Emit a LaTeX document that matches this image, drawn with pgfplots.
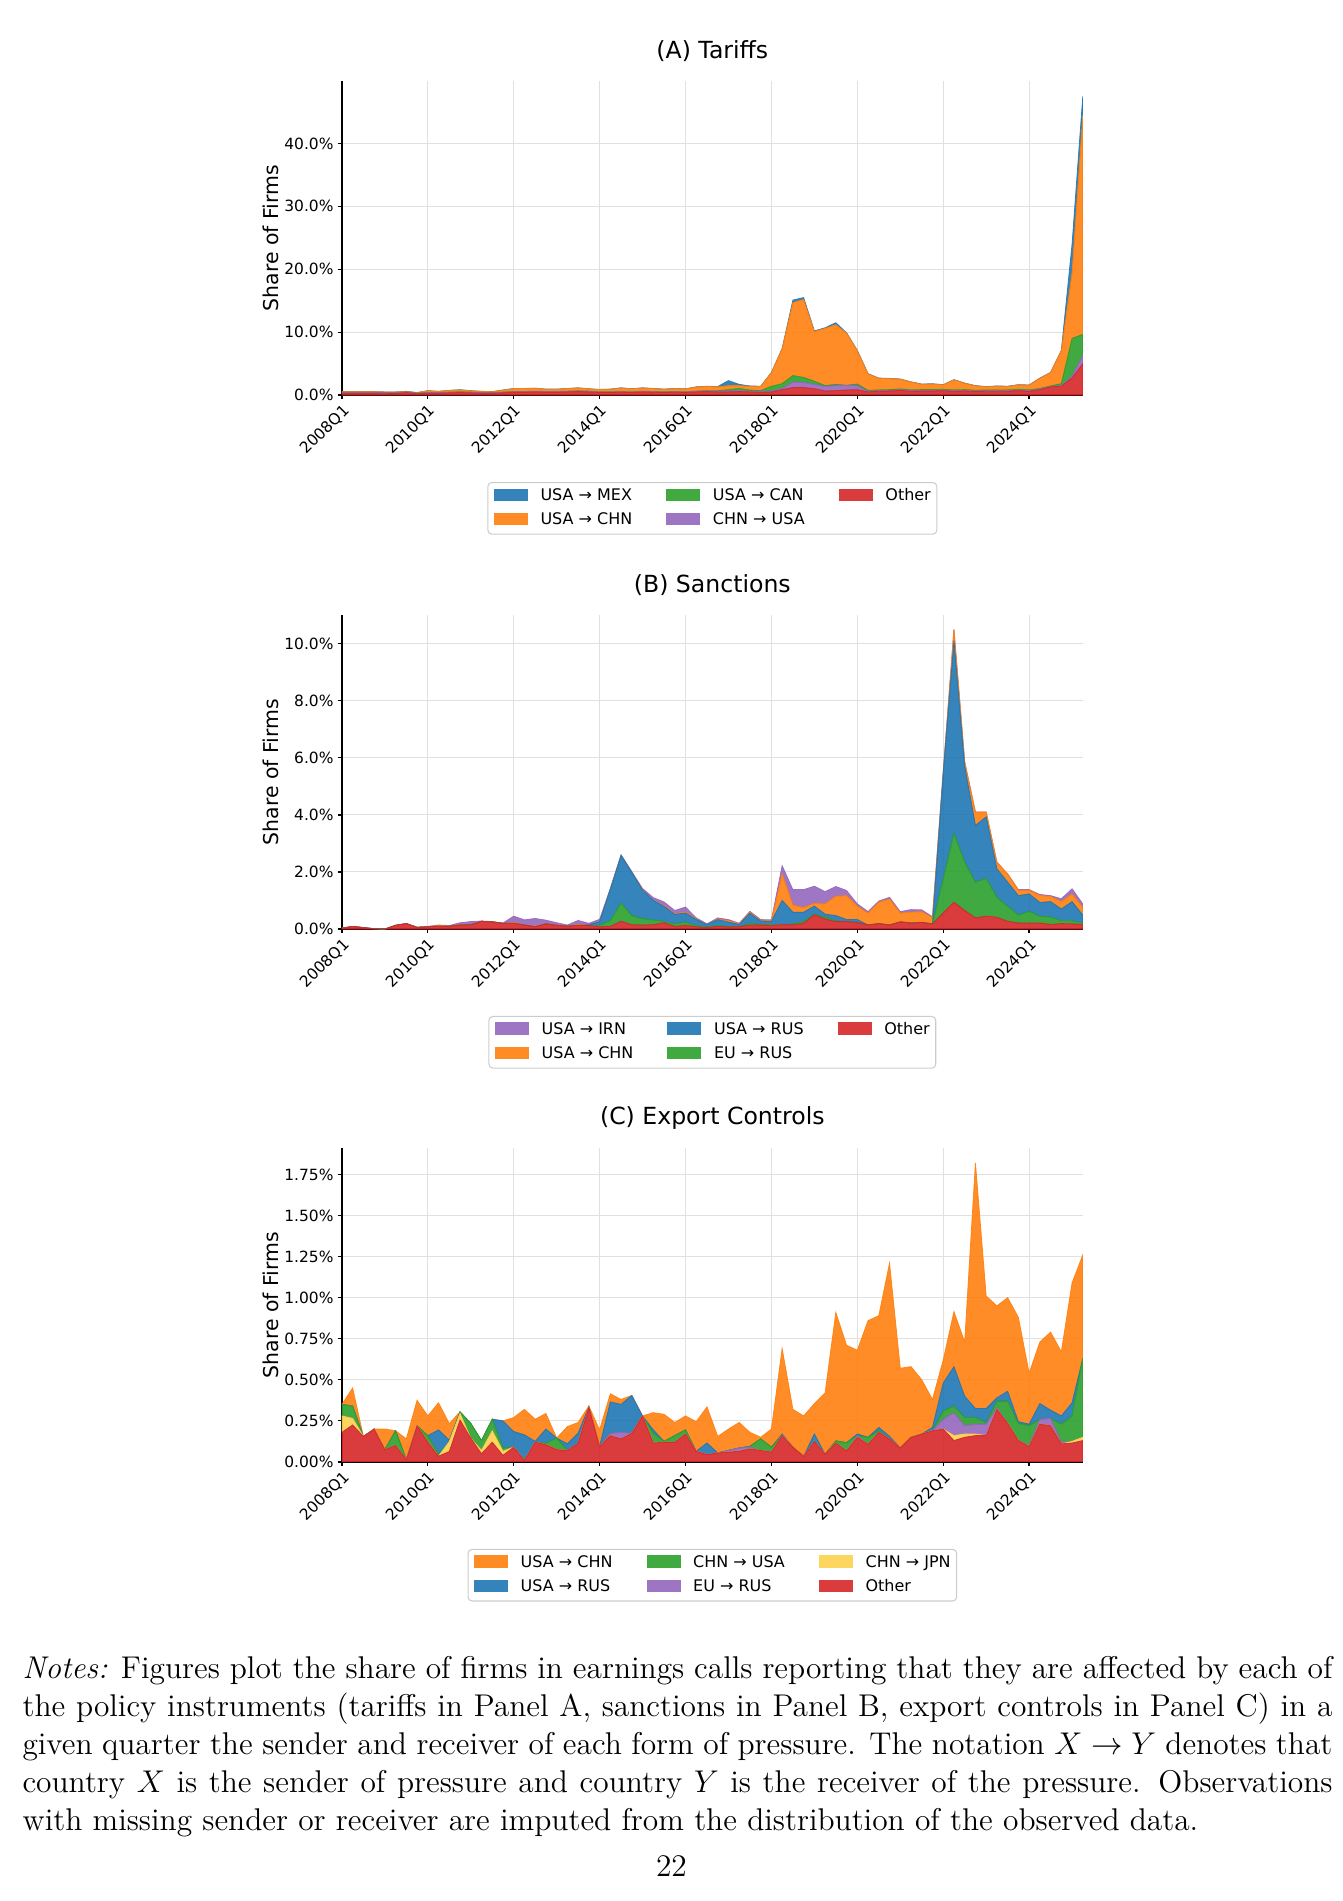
\documentclass[border=0pt]{standalone}
\usepackage{fontspec}
\usepackage{pgfplots}
\usepackage{pgfplotstable}
\pgfplotsset{compat=1.18}
\newfontfamily\dv{DejaVu Sans}

\definecolor{tblue}{HTML}{1F77B4}
\definecolor{torange}{HTML}{FF7F0E}
\definecolor{tgreen}{HTML}{2CA02C}
\definecolor{tred}{HTML}{D62728}
\definecolor{tpurple}{HTML}{9467BD}
\definecolor{tyellow}{HTML}{FDD24E}

% Panel A: tariffs, stacked from the bottom
\pgfplotstableread{
x oth cu can chn mex
0 0.30 0.08 0.04 0.11 0.02
1 0.30 0.08 0.04 0.11 0.02
2 0.30 0.08 0.04 0.11 0.02
3 0.30 0.08 0.04 0.11 0.02
4 0.28 0.08 0.04 0.08 0.02
5 0.25 0.08 0.04 0.11 0.02
6 0.40 0.08 0.04 0.06 0.02
7 0.20 0.08 0.04 0.06 0.02
8 0.30 0.08 0.04 0.26 0.02
9 0.30 0.08 0.04 0.16 0.02
10 0.35 0.08 0.04 0.26 0.02
11 0.40 0.08 0.04 0.31 0.02
12 0.35 0.08 0.04 0.21 0.02
13 0.30 0.08 0.04 0.16 0.02
14 0.30 0.08 0.04 0.11 0.02
15 0.35 0.08 0.04 0.31 0.02
16 0.45 0.08 0.04 0.46 0.02
17 0.45 0.08 0.04 0.46 0.02
18 0.50 0.08 0.04 0.46 0.02
19 0.45 0.08 0.04 0.36 0.02
20 0.45 0.08 0.04 0.36 0.02
21 0.50 0.08 0.04 0.41 0.02
22 0.55 0.08 0.04 0.46 0.02
23 0.50 0.08 0.04 0.36 0.02
24 0.40 0.08 0.04 0.36 0.02
25 0.40 0.08 0.04 0.41 0.02
26 0.45 0.08 0.04 0.56 0.02
27 0.40 0.08 0.04 0.46 0.02
28 0.50 0.08 0.04 0.51 0.02
29 0.45 0.08 0.04 0.46 0.02
30 0.40 0.08 0.04 0.41 0.02
31 0.45 0.08 0.04 0.46 0.02
32 0.40 0.08 0.04 0.46 0.02
33 0.50 0.08 0.04 0.66 0.02
34 0.55 0.10 0.05 0.67 0.03
35 0.50 0.10 0.10 0.60 0.05
36 0.50 0.15 0.20 0.65 0.80
37 0.55 0.15 0.35 0.45 0.20
38 0.50 0.10 0.20 0.60 0.05
39 0.45 0.10 0.15 0.67 0.03
40 0.50 0.15 0.75 2.15 0.05
41 0.85 0.20 0.75 5.55 0.05
42 1.20 0.90 1.00 11.60 0.40
43 1.20 0.80 0.80 12.40 0.30
44 1.00 0.70 0.50 7.90 0.10
45 0.65 0.75 0.10 9.10 0.10
46 0.70 0.80 0.20 9.50 0.30
47 0.80 0.75 0.00 8.30 0.05
48 0.85 0.65 0.25 5.30 0.05
49 0.50 0.10 0.15 2.62 0.03
50 0.60 0.10 0.12 1.85 0.03
51 0.65 0.10 0.12 1.75 0.03
52 0.75 0.10 0.12 1.55 0.03
53 0.60 0.10 0.12 1.25 0.03
54 0.65 0.10 0.12 0.85 0.03
55 0.65 0.10 0.12 0.90 0.03
56 0.70 0.10 0.12 0.70 0.03
57 0.60 0.10 0.12 1.60 0.03
58 0.65 0.10 0.12 1.00 0.03
59 0.55 0.10 0.12 0.70 0.03
60 0.60 0.10 0.12 0.50 0.03
61 0.60 0.10 0.12 0.60 0.03
62 0.60 0.10 0.12 0.55 0.03
63 0.70 0.10 0.12 0.70 0.03
64 0.60 0.10 0.12 0.75 0.03
65 0.85 0.10 0.10 1.62 0.03
66 1.30 0.05 0.10 2.12 0.03
67 1.40 0.10 0.30 5.27 0.03
68 2.70 0.30 6.00 10.50 4.50
69 5.00 1.30 3.35 34.85 3.00
}\dataA

% Panel B: sanctions
\pgfplotstableread{
x oth eu rus chn irn
0 0.03 0 0 0 0
1 0.09 0 0 0 0
2 0.05 0 0 0 0
3 0.01 0 0 0 0
4 0.00 0 0 0 0
5 0.13 0 0 0 0
6 0.19 0 0 0 0
7 0.06 0 0 0 0
8 0.08 0 0 0 0.01
9 0.10 0 0 0.03 0.01
10 0.10 0 0 0 0.02
11 0.14 0 0 0.02 0.06
12 0.15 0 0 0 0.11
13 0.27 0 0 0 0.01
14 0.25 0 0 0 0.01
15 0.20 0 0 0 0.01
16 0.20 0 0 0.03 0.22
17 0.14 0 0 0 0.18
18 0.08 0 0 0.02 0.27
19 0.18 0 0 0 0.13
20 0.13 0 0 0 0.09
21 0.10 0 0 0 0.04
22 0.13 0 0 0.03 0.14
23 0.12 0 0.03 0 0.05
24 0.08 0.05 0.12 0 0.09
25 0.09 0.21 1.10 0 0.02
26 0.27 0.64 1.67 0 0.02
27 0.15 0.32 1.52 0 0.02
28 0.14 0.22 1.00 0.02 0.04
29 0.15 0.17 0.68 0 0.10
30 0.22 0.04 0.53 0.03 0.13
31 0.09 0.09 0.33 0.02 0.12
32 0.13 0.11 0.32 0.04 0.17
33 0.08 0.04 0.21 0.02 0.04
34 0.05 0.02 0.09 0 0.02
35 0.09 0.03 0.21 0.03 0.03
36 0.07 0.02 0.15 0.05 0.04
37 0.08 0 0.08 0.02 0.02
38 0.14 0.06 0.35 0.04 0.03
39 0.14 0.02 0.12 0.03 0.02
40 0.13 0.02 0.12 0.03 0.02
41 0.15 0 0.85 0.93 0.29
42 0.15 0.03 0.41 0.25 0.54
43 0.20 0.06 0.33 0.16 0.63
44 0.50 0.02 0.28 0.10 0.60
45 0.35 0.06 0.11 0.36 0.43
46 0.26 0.03 0.18 0.68 0.34
47 0.26 0 0.07 0.84 0.18
48 0.23 0 0.10 0.47 0.08
49 0.14 0 0 0.42 0.05
50 0.19 0 0 0.75 0.04
51 0.14 0 0 0.91 0.06
52 0.25 0 0 0.31 0.05
53 0.21 0 0 0.38 0.09
54 0.23 0 0 0.38 0.06
55 0.18 0 0 0.22 0.03
56 0.56 1.20 3.70 0.04 0
57 0.94 2.41 6.75 0.40 0
58 0.65 1.70 3.35 0.16 0
59 0.39 1.25 1.99 0.47 0
60 0.45 1.33 2.15 0.17 0
61 0.41 0.70 1.00 0.23 0
62 0.27 0.53 0.84 0.29 0
63 0.21 0.28 0.68 0.19 0.02
64 0.21 0.41 0.61 0.13 0.02
65 0.21 0.24 0.48 0.25 0.03
66 0.16 0.26 0.54 0.18 0.03
67 0.19 0.10 0.41 0.26 0.10
68 0.18 0.11 0.67 0.27 0.18
69 0.16 0.05 0.28 0.27 0.12
}\dataB

% Panel C: export controls
\pgfplotstableread{
x oth jpn eu cu rus chn
0 0.18 0.10 0 0.07 0 0.0
1 0.225 0.04 0 0.075 0 0.11
2 0.155 0 0 0 0 0
3 0.20 0 0 0 0 0
4 0.075 0 0 0 0 0.125
5 0.10 0 0 0.09 0 0
6 0.015 0 0 0 0 0.125
7 0.22 0 0 0 0 0.155
8 0.12 0 0 0.04 0 0.12
9 0.035 0 0 0.01 0.15 0.165
10 0.063 0.06 0 0 0.01 0.10
11 0.255 0.04 0 0.01 0 0
12 0.145 0 0 0.09 0 0
13 0.05 0.02 0 0.06 0 0
14 0.12 0.07 0 0.07 0 0
15 0.04 0.025 0 0.02 0.165 0
16 0.09 0 0 0 0.095 0.085
17 0.01 0 0 0 0.155 0.155
18 0.12 0 0 0 0.005 0.135
19 0.105 0 0 0.01 0.085 0.095
20 0.075 0 0 0.07 0 0
21 0.07 0 0 0 0.04 0.105
22 0.115 0 0 0 0.06 0.065
23 0.335 0 0 0 0 0.005
24 0.095 0 0 0 0 0.10
25 0.16 0 0.015 0 0.19 0.05
26 0.14 0 0.04 0 0.17 0.03
27 0.175 0 0 0 0.23 0
28 0.28 0 0 0 0 0
29 0.115 0 0 0.06 0.02 0.105
30 0.12 0 0 0.005 0 0.165
31 0.12 0 0 0.04 0 0.08
32 0.17 0 0 0.025 0 0.085
33 0.065 0 0 0 0 0.18
34 0.045 0 0 0 0.07 0.22
35 0.055 0 0 0 0 0.10
36 0.06 0 0.01 0 0 0.13
37 0.065 0 0.02 0 0 0.155
38 0.08 0 0.01 0.005 0 0.085
39 0.07 0 0 0.07 0 0.01
40 0.06 0 0 0.03 0 0.11
41 0.16 0 0 0 0.01 0.52
42 0.09 0 0 0 0 0.23
43 0.035 0 0 0 0 0.245
44 0.125 0 0 0 0.045 0.185
45 0.047 0 0 0 0 0.373
46 0.115 0 0 0.013 0 0.782
47 0.067 0 0 0.05 0 0.593
48 0.15 0 0.01 0 0.01 0.51
49 0.107 0 0 0.043 0 0.71
50 0.18 0 0 0.01 0.02 0.68
51 0.14 0 0 0 0.016 1.054
52 0.085 0 0 0 0 0.485
53 0.15 0 0 0 0 0.43
54 0.17 0 0 0 0 0.33
55 0.19 0 0 0 0.02 0.17
56 0.20 0 0.06 0.05 0.17 0.14
57 0.13 0.03 0.14 0.04 0.24 0.335
58 0.15 0.02 0.05 0.05 0.13 0.33
59 0.16 0.01 0.06 0.04 0.055 1.495
60 0.16 0 0.07 0.01 0.085 0.685
61 0.32 0 0.01 0.04 0.02 0.56
62 0.235 0 0 0.135 0.06 0.57
63 0.13 0 0 0.105 0.01 0.635
64 0.095 0 0.005 0.12 0.01 0.31
65 0.23 0 0.03 0 0.095 0.375
66 0.22 0 0.045 0 0.05 0.475
67 0.11 0 0.01 0.11 0.05 0.39
68 0.115 0.01 0 0.155 0.08 0.73
69 0.13 0.02 0 0.48 0 0.63
}\dataC

\pgfplotsset{
  ar/.style={fill=#1, draw=#1, fill opacity=0.9, draw opacity=0.9, line width=0.3pt, forget plot},
  patch/.style={legend image code/.code={%
    \path[draw=none, sharp corners, fill=#1, fill opacity=0.9] (0pt,-1.75pt) rectangle (13pt,2.95pt);}},
  panel/.style={
    scale only axis, width=282.8pt, height=119.8pt,
    xmin=0, xmax=69, ymin=0,
    stack plots=y,
    axis x line*=bottom, axis y line*=left,
    axis line style={line width=0.6pt, -},
    tick align=outside, major tick length=1.5pt,
    tick style={line width=0.5pt, black},
    xtick={0,8,...,64},
    xticklabels={2008Q1,2010Q1,2012Q1,2014Q1,2016Q1,2018Q1,2020Q1,2022Q1,2024Q1},
    tick label style={font=\dv\fontsize{5.9}{7}\selectfont},
    xticklabel style={rotate=45, anchor=north east, inner sep=1pt},
    yticklabel style={inner sep=1.5pt},
    grid=major, grid style={black!12, line width=0.4pt},
    ylabel={Share of Firms},
    every axis y label/.style={at={(axis description cs:-0.0958,0.5)}, rotate=90, anchor=center, font=\dv\fontsize{7.8}{9}\selectfont},
    every axis title/.style={at={(axis description cs:0.5,1)}, anchor=center, yshift=11.5pt, font=\dv\fontsize{9}{10}\selectfont},
    legend cell align=left,
    legend columns=3,
    legend style={at={(0.5,-0.277)}, anchor=north, draw=black!20, rounded corners=1.5pt, fill=white,
      font=\dv\fontsize{6.1}{7}\selectfont, inner sep=2.3pt, row sep=3.4pt,
      /tikz/every odd column/.append style={column sep=4.8pt},
      /tikz/every even column/.append style={column sep=13pt},
      nodes={inner sep=0pt, text height=4.5pt, text depth=1.3pt}},
  }
}

\begin{document}
\begin{tikzpicture}
\path[use as bounding box] (0pt,0pt) rectangle (512.6pt,725.6pt);

\begin{axis}[panel, at={(130.5pt,574.8pt)}, anchor=south west,
    title={(A) Tariffs}, ymax=49.9,
    ytick={0,10,20,30,40}, yticklabels={0.0\%,10.0\%,20.0\%,30.0\%,40.0\%}]
\addplot[ar=tred] table[x=x, y=oth] {\dataA} \closedcycle;
\addplot[ar=tpurple] table[x=x, y=cu] {\dataA} \closedcycle;
\addplot[ar=tgreen] table[x=x, y=can] {\dataA} \closedcycle;
\addplot[ar=torange] table[x=x, y=chn] {\dataA} \closedcycle;
\addplot[ar=tblue] table[x=x, y=mex] {\dataA} \closedcycle;
\addlegendimage{patch=tblue}\addlegendentry{USA → MEX}
\addlegendimage{patch=tgreen}\addlegendentry{USA → CAN}
\addlegendimage{patch=tred}\addlegendentry{Other}
\addlegendimage{patch=torange}\addlegendentry{USA → CHN}
\addlegendimage{patch=tpurple}\addlegendentry{CHN → USA}
\end{axis}

\begin{axis}[panel, at={(130.5pt,371.0pt)}, anchor=south west,
    title={(B) Sanctions}, ymax=11.0,
    ytick={0,2,4,6,8,10}, yticklabels={0.0\%,2.0\%,4.0\%,6.0\%,8.0\%,10.0\%}]
\addplot[ar=tred] table[x=x, y=oth] {\dataB} \closedcycle;
\addplot[ar=tgreen] table[x=x, y=eu] {\dataB} \closedcycle;
\addplot[ar=tblue] table[x=x, y=rus] {\dataB} \closedcycle;
\addplot[ar=torange] table[x=x, y=chn] {\dataB} \closedcycle;
\addplot[ar=tpurple] table[x=x, y=irn] {\dataB} \closedcycle;
\addlegendimage{patch=tpurple}\addlegendentry{USA → IRN}
\addlegendimage{patch=tblue}\addlegendentry{USA → RUS}
\addlegendimage{patch=tred}\addlegendentry{Other}
\addlegendimage{patch=torange}\addlegendentry{USA → CHN}
\addlegendimage{patch=tgreen}\addlegendentry{EU → RUS}
\end{axis}

\begin{axis}[panel, at={(130.5pt,167.6pt)}, anchor=south west,
    title={(C) Export Controls}, ymax=1.911,
    ytick={0,0.25,0.5,0.75,1,1.25,1.5,1.75},
    yticklabels={0.00\%,0.25\%,0.50\%,0.75\%,1.00\%,1.25\%,1.50\%,1.75\%}]
\addplot[ar=tred] table[x=x, y=oth] {\dataC} \closedcycle;
\addplot[ar=tyellow] table[x=x, y=jpn] {\dataC} \closedcycle;
\addplot[ar=tpurple] table[x=x, y=eu] {\dataC} \closedcycle;
\addplot[ar=tgreen] table[x=x, y=cu] {\dataC} \closedcycle;
\addplot[ar=tblue] table[x=x, y=rus] {\dataC} \closedcycle;
\addplot[ar=torange] table[x=x, y=chn] {\dataC} \closedcycle;
\addlegendimage{patch=torange}\addlegendentry{USA → CHN}
\addlegendimage{patch=tgreen}\addlegendentry{CHN → USA}
\addlegendimage{patch=tyellow}\addlegendentry{CHN → JPN}
\addlegendimage{patch=tblue}\addlegendentry{USA → RUS}
\addlegendimage{patch=tpurple}\addlegendentry{EU → RUS}
\addlegendimage{patch=tred}\addlegendentry{Other}
\end{axis}

\node[anchor=north west, inner sep=0pt, text width=500pt, align=justify,
      font=\fontsize{12}{14.5}\selectfont] at (8.4pt,93.4pt)
 {\textit{Notes:} Figures plot the share of firms in earnings calls reporting that they are affected by each of\linebreak
 the policy instruments (tariffs in Panel A, sanctions in Panel B, export controls in Panel C) in a\linebreak
 given quarter the sender and receiver of each form of pressure. The notation $X \rightarrow Y$ denotes that\linebreak
 country $X$ is the sender of pressure and country $Y$ is the receiver of the pressure. Observations\linebreak
 with missing sender or receiver are imputed from the distribution of the observed data.};
\node[anchor=base, inner sep=0pt, font=\fontsize{12}{14.5}\selectfont] at (256.3pt,9.5pt) {22};
\end{tikzpicture}
\end{document}
